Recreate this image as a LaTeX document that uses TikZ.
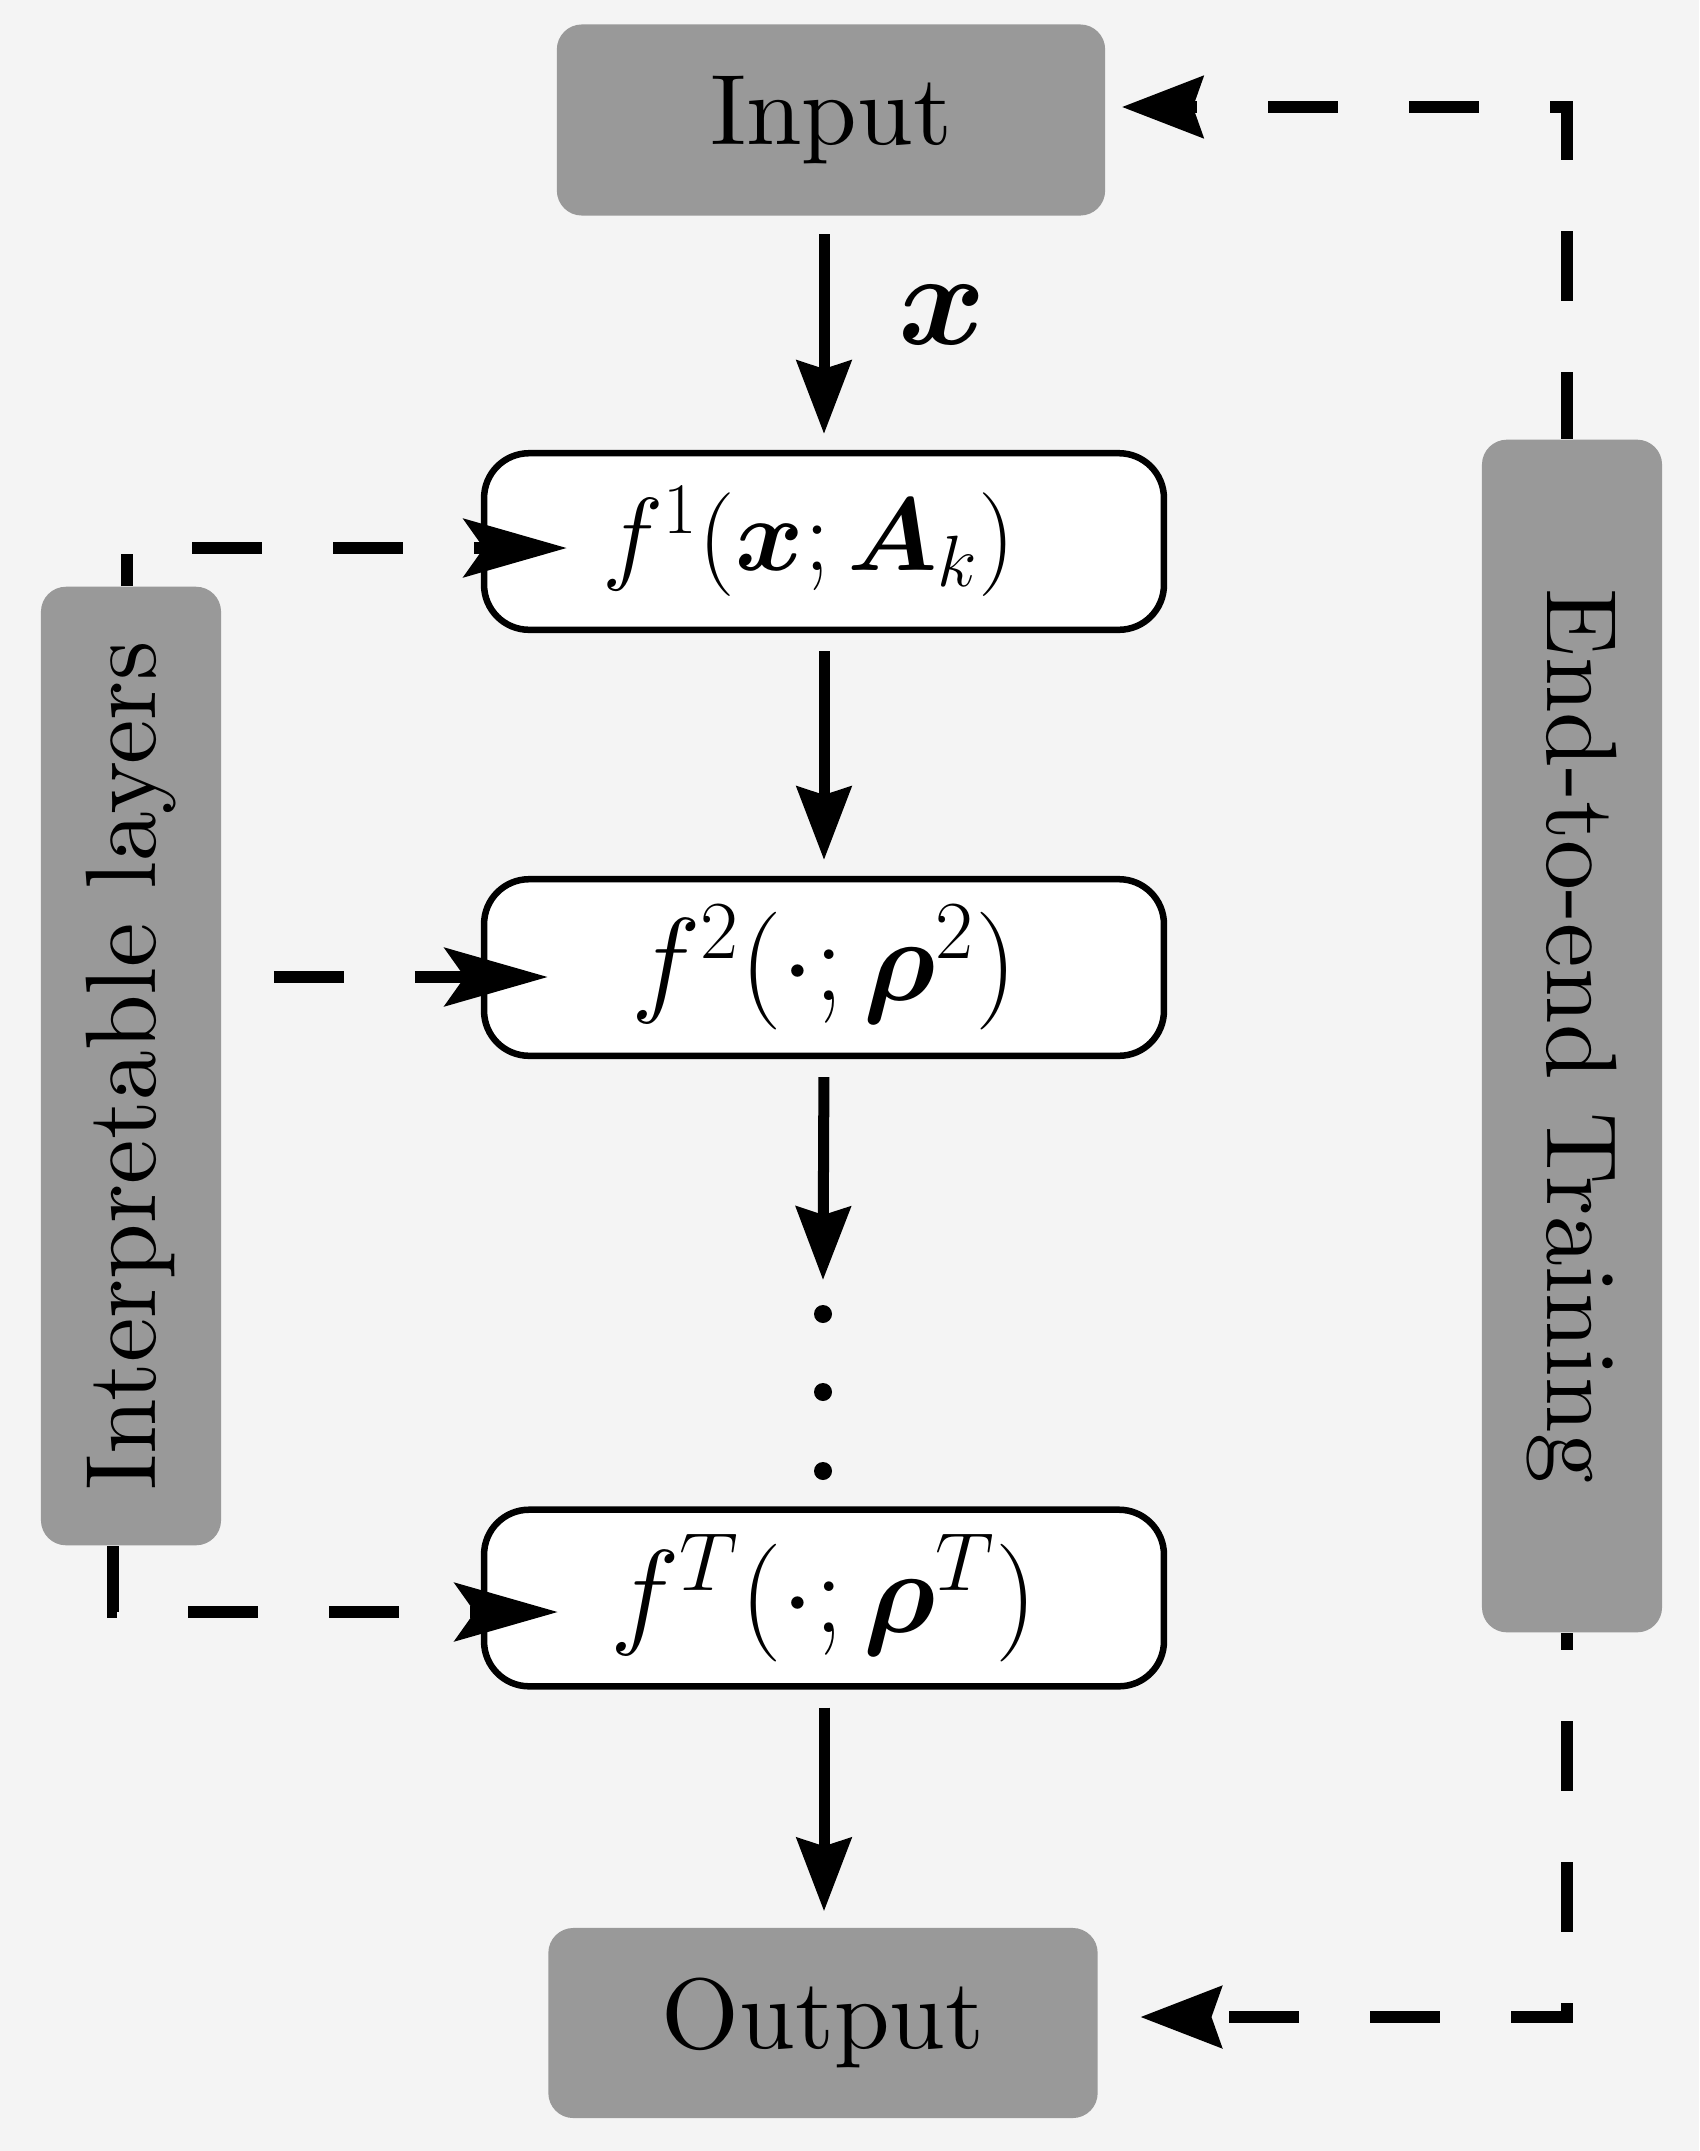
\RequirePackage{fix-cm}
\documentclass[tikz,border=0pt]{standalone}
\usepackage{amsmath}
\usepackage{graphicx}
\usepackage{fontspec}
\newfontfamily\lmten{lmroman10-regular}[Extension=.otf]
\usetikzlibrary{arrows.meta,calc}
\definecolor{bgcol}{HTML}{F4F4F4}
\definecolor{boxgray}{HTML}{999999}
\begin{document}
\begin{tikzpicture}[x=0.01cm,y=-0.01cm,
  every node/.style={font=\lmten\fontsize{28.45pt}{34pt}\selectfont},
  graybox/.style={fill=boxgray, rounded corners=0.25cm, inner sep=0pt},
  fbox/.style={draw, fill=white, line width=0.065cm, rounded corners=0.45cm, minimum width=6.795cm, minimum height=1.765cm, inner sep=0pt},
  mainarrow/.style={line width=0.11cm, -{Stealth[length=0.73cm,width=0.54cm,inset=0.08cm]}, shorten <=0.18cm, shorten >=0.16cm},
  dashline/.style={line width=0.115cm, dash pattern=on 0.70cm off 0.71cm},
  leftarrow/.style={dashline, -{Stealth[length=1.03cm,width=0.58cm,inset=0.2cm]}},
  rightarrow/.style={dashline, -{Stealth[length=0.81cm,width=0.61cm,inset=0.1cm]}},
  dotnode/.style={circle, fill=black, minimum size=0.18cm, inner sep=0pt}
]
\fill[bgcol] (0,0) rectangle (1699,2151);
\useasboundingbox (0,0) rectangle (1699,2151);

\node[graybox, minimum width=5.48cm, minimum height=1.91cm] (input) at (831,120) {Input};
\node[graybox, minimum width=5.49cm, minimum height=1.90cm] (output) at (823,2023) {Output};
\node[graybox, minimum width=1.80cm, minimum height=9.58cm] (interp) at (131,1066) {\rotatebox{90}{Interpretable layers}};
\node[graybox, minimum width=1.80cm, minimum height=11.92cm] (e2e) at (1572,1036) {\rotatebox{-90}{End-to-end Training}};

\node[fbox, font=\fontsize{29.5pt}{35pt}\selectfont] (f1) at (824,541.5) {$f^1(\boldsymbol{x};\boldsymbol{A}_k)$\kern0.3cm};
\node[fbox, font=\fontsize{33.5pt}{40pt}\selectfont] (f2) at (824,967.5) {$f^2(\cdot;\boldsymbol{\rho}^2)$};
\node[fbox, font=\fontsize{33.5pt}{40pt}\selectfont] (fT) at (824,1598) {$f^T(\cdot;\boldsymbol{\rho}^T)$};

\node[dotnode] (d1) at (823,1314) {};
\node[dotnode] (d2) at (823,1392) {};
\node[dotnode] (d3) at (823,1471) {};
\coordinate (dtop) at (823,1280);

\node[font=\fontsize{37.8pt}{45pt}\selectfont] (xlab) at (942,315) {$\boldsymbol{x}$};

\draw[mainarrow] (f1.north |- input.south) -- (f1.north);
\draw[mainarrow] (f1.south) -- (f2.north);
\draw[mainarrow, shorten >=0pt] (f2.south) -- (dtop);
\draw[mainarrow] (fT.south) -- (fT.south |- output.north);

\coordinate (t1) at ([xshift=0.86cm,yshift=-0.065cm]f1.west);
\coordinate (t2) at ([xshift=0.67cm,yshift=-0.095cm]f2.west);
\coordinate (t3) at ([xshift=0.77cm,yshift=-0.14cm]fT.west);
\draw[leftarrow, dash phase=0.38cm] ([xshift=-0.04cm]interp.north) |- (t1);
\draw[leftarrow, dash phase=0.89cm] (interp.east |- t2) -- (t2);
\draw[leftarrow] ([xshift=-0.18cm]interp.south) |- (t3);

\coordinate (tin) at ([xshift=0.16cm,yshift=0.13cm]input.east);
\coordinate (tout) at ([xshift=0.42cm,yshift=0.06cm]output.east);
\draw[rightarrow, dash phase=0.03cm] ([xshift=-0.05cm]e2e.north) |- (tin);
\draw[rightarrow, dash phase=0.53cm] ([xshift=-0.05cm]e2e.south) |- (tout);
\end{tikzpicture}
\end{document}
